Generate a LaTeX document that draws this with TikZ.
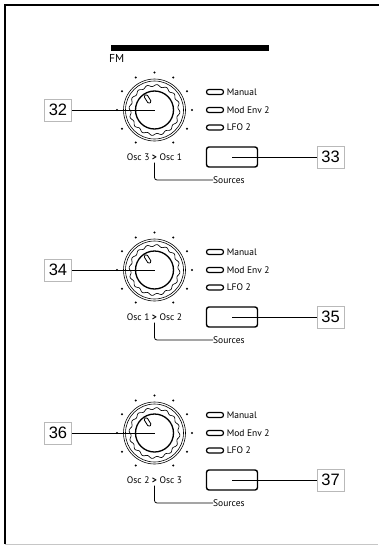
\documentclass[tikz,border=0pt]{standalone}
\usepackage{fontspec}
\setmainfont{PT Sans}
\newfontfamily\calloutfont{Liberation Sans}
\usetikzlibrary{positioning}

\tikzset{
  paneltext/.style={inner sep=0pt, font=\fontsize{9.5}{10}\selectfont},
  ledlamp/.style={draw, line width=1.2pt, rounded corners=2.4pt,
    minimum width=17pt, minimum height=5pt, inner sep=0pt},
  srcbutton/.style={draw, line width=1.4pt, rounded corners=2.5pt,
    minimum width=51pt, minimum height=20pt, inner sep=0pt},
  calloutbox/.style={draw=gray!55, line width=1pt, fill=white,
    minimum width=27pt, minimum height=22pt, inner sep=0pt,
    font=\calloutfont\fontsize{16.5}{16}\selectfont},
  pointerslot/.style={draw, line width=0.8pt, rounded corners=1.3pt,
    minimum width=9pt, minimum height=3.6pt, inner sep=0pt},
  leader/.style={line width=0.8pt}
}

\begin{document}
\begin{tikzpicture}[x=1pt,y=-1pt]
  \useasboundingbox (0,0) rectangle (379,546);

  % frame
  \draw[line width=1.3pt] (5,544) -- (5,5) -- (379,5);
  \draw[line width=0.8pt, gray!45] (5,544) -- (378,544);

  % FM header
  \fill (111,45) rectangle (269,51);
  \node[anchor=north west, inner sep=0pt, font=\fontsize{11.5}{12}\selectfont] (fm) at (109,54) {FM};

  % the three FM sections
  \foreach \y/\na/\nb/\src/\dst/\k in {110/32/33/3/1/a, 270/34/35/1/2/b, 433/36/37/2/3/c} {
    % knob
    \coordinate (knob-\k) at (154.5,\y);
    \foreach \a in {0,30,60,120,150,180,210,240,270,300,330}
      \fill (knob-\k) ++(\a:37.5) circle (1.1pt);
    \draw[line width=0.6pt] (knob-\k) circle (31pt);
    \draw[line width=0.6pt] (knob-\k) circle (29pt);
    \draw[line width=0.65pt, shift={(knob-\k)}]
      plot[domain=0:360, samples=193, smooth] (\x:{24.5+1.0*sin(16*\x)}) -- cycle;
    \draw[line width=1.3pt] (knob-\k) circle (19pt);
    \path (knob-\k) ++(-122:13) node[pointerslot, rotate=122] (ptr-\k) {};

    % knob label and sources leader
    \node[paneltext] (osc-\k) at (154.5,\y+47) {Osc \src\ \textbf{>} Osc \dst};
    \node[paneltext, anchor=west] (sources-\k) at (213,\y+70) {Sources};
    \draw[leader, rounded corners=2.5pt] ([yshift=-2pt]osc-\k.south) |- (sources-\k.west);

    % source LEDs
    \node[ledlamp] (led1-\k) at (215,\y-18) {};
    \node[ledlamp] (led2-\k) at (215,\y) {};
    \node[ledlamp] (led3-\k) at (215,\y+17.5) {};
    \node[paneltext, right=2.5pt of led1-\k] {Manual};
    \node[paneltext, right=2.5pt of led2-\k] {Mod Env 2};
    \node[paneltext, right=2.5pt of led3-\k] {LFO 2};

    % source button
    \node[srcbutton] (btn-\k) at (232,\y+47) {};

    % callouts
    \node[calloutbox] (num-\na) at (58,\y) {\na};
    \node[calloutbox] (num-\nb) at (330.5,\y+47) {\nb};
    \draw[leader] (num-\na) -- (knob-\k);
    \draw[leader] (btn-\k.center) -- (num-\nb);
  }
\end{tikzpicture}
\end{document}
